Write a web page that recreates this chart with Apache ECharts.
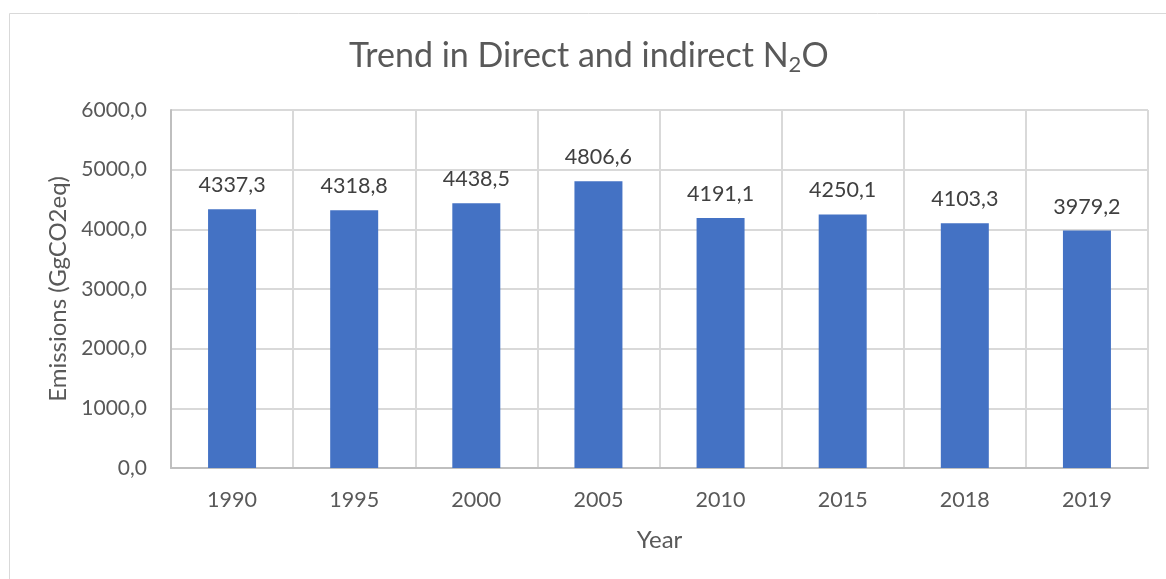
<!DOCTYPE html>
<html>
<head>
<meta charset="utf-8">
<script src="https://cdn.jsdelivr.net/npm/echarts@6/dist/echarts.min.js"></script>
<style>
  html, body { margin: 0; padding: 0; background: #fff; }
  #main { width: 1166px; height: 579px; }
</style>
</head>
<body>
<div id="main"></div>
<script>
// data
const years = ["1990", "1995", "2000", "2005", "2010", "2015", "2018", "2019"];
const emissions = [4337.3, 4318.8, 4438.5, 4806.6, 4191.1, 4250.1, 4103.3, 3979.2];

const fmt = (v) => v.toFixed(1).replace(".", ",");
const font = "Lato, 'Open Sans', sans-serif";

const chart = echarts.init(document.getElementById("main"));
chart.setOption({
  animation: false,
  textStyle: { fontFamily: font },
  graphic: [{
    type: "rect",
    left: 7, top: 11,
    shape: { width: 1200, height: 620 },
    style: { fill: "none", stroke: "#d9d9d9", lineWidth: 1 },
    silent: true
  }],
  title: {
    text: "Trend in Direct and indirect N{sub|2}O",
    left: 349,
    top: 36,
    padding: 0,
    textStyle: {
      fontFamily: font,
      fontSize: 34,
      fontWeight: "normal",
      color: "#595959",
      rich: {
        sub: { fontSize: 22, color: "#595959", fontFamily: font, padding: [18, 0, 0, 0] }
      }
    }
  },
  grid: { left: 171, top: 110, right: 18, bottom: 111, containLabel: false },
  xAxis: {
    type: "category",
    data: years,
    name: "Year",
    nameLocation: "middle",
    nameGap: 60,
    nameTextStyle: { fontSize: 24, color: "#595959", fontFamily: font },
    axisLine: { lineStyle: { color: "#bfbfbf", width: 2 } },
    axisTick: { show: false },
    axisLabel: { fontSize: 21.5, color: "#595959", margin: 21, fontFamily: font },
    splitLine: { show: true, lineStyle: { color: "#d9d9d9", width: 2 } }
  },
  yAxis: {
    type: "value",
    min: 0,
    max: 6000,
    interval: 1000,
    name: "Emissions (GgCO2eq)",
    nameLocation: "middle",
    nameGap: 99,
    nameTextStyle: { fontSize: 24, color: "#595959", fontFamily: font },
    axisLine: { show: true, lineStyle: { color: "#bfbfbf", width: 2 } },
    axisTick: { show: false },
    axisLabel: { fontSize: 21, color: "#595959", margin: 24, formatter: fmt, fontFamily: font },
    splitLine: { show: true, lineStyle: { color: "#d9d9d9", width: 2 } }
  },
  series: [{
    type: "bar",
    data: emissions,
    barWidth: 48,
    itemStyle: { color: "#4472c4" },
    label: {
      show: true,
      position: "top",
      distance: 13,
      fontSize: 21.5,
      color: "#404040",
      fontFamily: font,
      formatter: (p) => fmt(p.value)
    }
  }]
});
</script>
</body>
</html>
